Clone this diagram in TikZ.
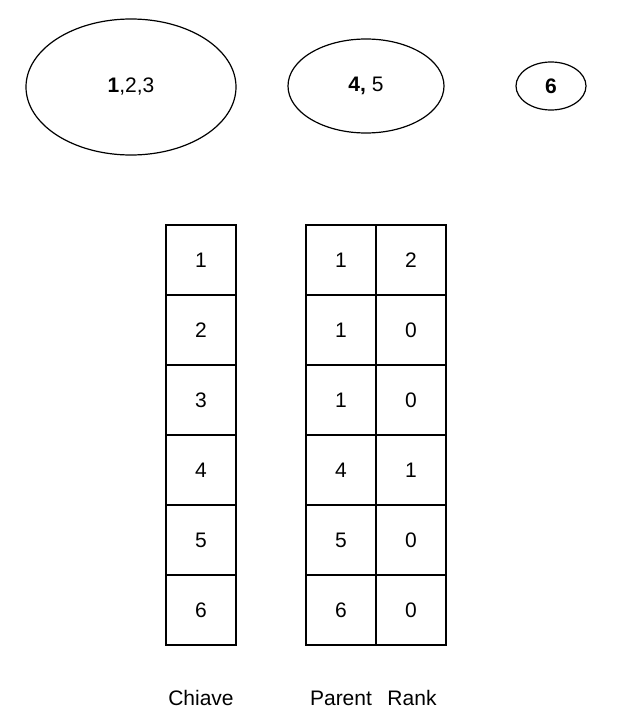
\documentclass[tikz,border=0pt]{standalone}
\usepackage{fontspec}
\setmainfont{Liberation Sans}
\usetikzlibrary{shapes.geometric}
\begin{document}
\begin{tikzpicture}[x=1pt,y=-1pt,font=\fontsize{21}{25}\selectfont,
  set/.style={draw,ellipse,line width=1.2pt,inner sep=0pt},
  cell/.style={draw,line width=1.2pt,minimum width=70pt,minimum height=70pt,inner sep=0pt}]
\useasboundingbox (0,0) rectangle (619,728);
\node[set,minimum width=210pt,minimum height=136pt] (set1) at (131,87) {\textbf{1},2,3};
\node[set,minimum width=156pt,minimum height=94pt] (set2) at (366,86) {\textbf{4,} 5};
\node[set,minimum width=70pt,minimum height=48pt] (set3) at (551,86) {\textbf{6}};
\foreach \i/\k/\p/\r in {1/1/1/2,2/2/1/0,3/3/1/0,4/4/4/1,5/5/5/0,6/6/6/0}{
  \node[cell] (chiave\i) at (201,190+70*\i) {\k};
  \node[cell] (parent\i) at (341,190+70*\i) {\p};
  \node[cell] (rank\i) at (411,190+70*\i) {\r};
}
\node (chiave) at (201,698) {Chiave};
\node (parent) at (341,698) {Parent};
\node (rank) at (412,698) {Rank};
\end{tikzpicture}
\end{document}
